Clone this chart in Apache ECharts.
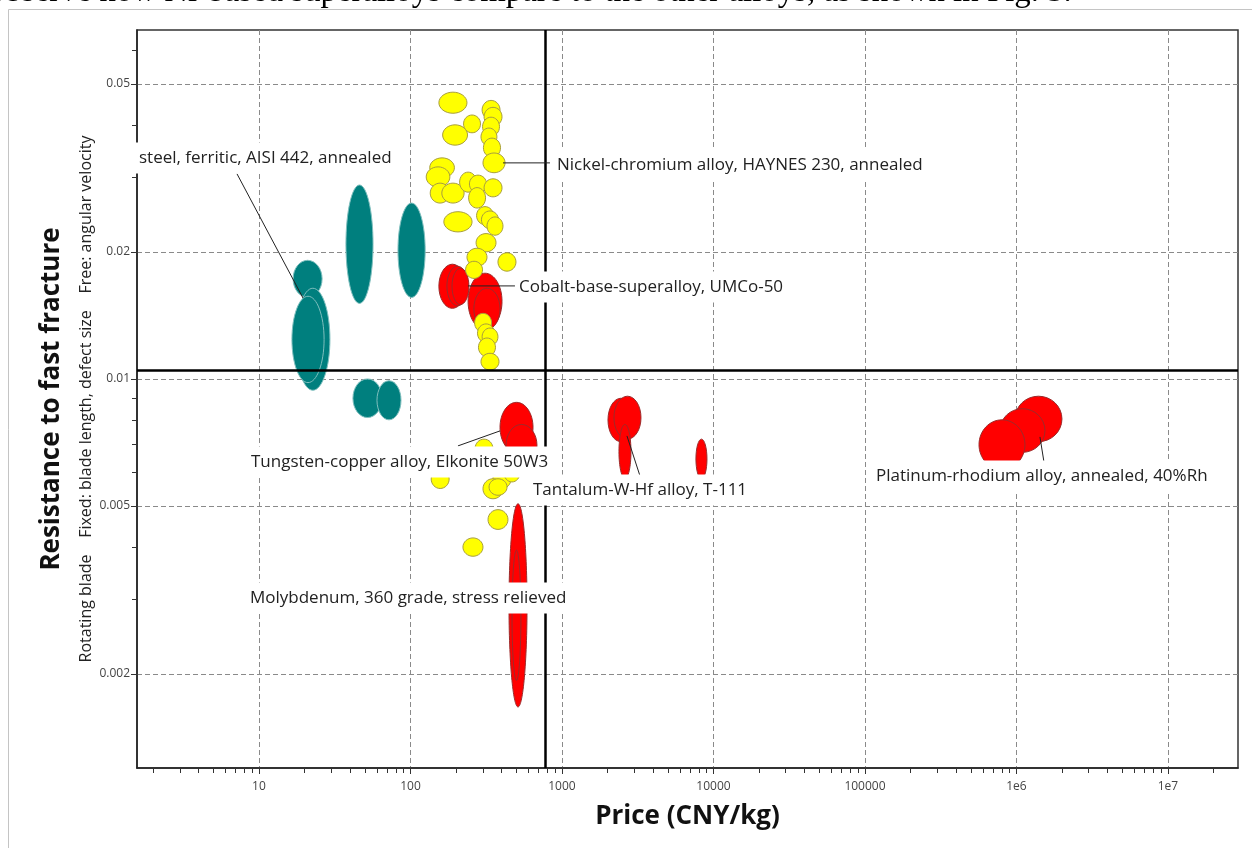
<!DOCTYPE html>
<html>
<head>
<meta charset="utf-8">
<script src="https://cdn.jsdelivr.net/npm/echarts@6/dist/echarts.min.js"></script>
<style>
  html, body { margin: 0; padding: 0; background: #fff; }
  #chart { width: 1252px; height: 848px; }
</style>
</head>
<body>
<div id="chart"></div>
<script>
// ---- Axes (price in CNY/kg, resistance to fast fracture) ----
const priceTicks = [10, 100, 1000, 10000, 100000, 1e6, 1e7];
const priceTickLabels = ['10', '100', '1000', '10000', '100000', '1e6', '1e7'];
const resTicks = [0.002, 0.005, 0.01, 0.02, 0.05];
const resTickLabels = ['0.002', '0.005', '0.01', '0.02', '0.05'];
const priceRange = [1.566, 2.9e7];
const resRange = [0.001197, 0.0671];

// Selection limits drawn as solid black lines
const priceLimit = 773;
const resistanceLimit = 0.0105;

// ---- Material property ranges: [price low, price high, resistance low, resistance high] ----
const steelRanges = [
  [16.8, 26.1, 0.0156, 0.0191],
  [17.5, 29.4, 0.0094, 0.0164],
  [16.5, 26.9, 0.0098, 0.0157],
  [37.5, 56.6, 0.0151, 0.0288],
  [82.7, 125, 0.0156, 0.0261],
  [41.7, 64.9, 0.0081, 0.0100],
  [60.1, 86.6, 0.0080, 0.0099]
];

const otherAlloyRanges = [
  [154, 232, 0.0147, 0.0187],
  [174, 240, 0.0149, 0.0185],
  [188, 243, 0.0150, 0.0183],
  [240, 402, 0.0131, 0.0178],
  [262, 390, 0.0131, 0.0164],
  [390, 644, 0.0067, 0.0088],
  [427, 684, 0.0062, 0.0078],
  [2012, 2987, 0.0071, 0.0090],
  [2204, 3323, 0.0072, 0.0091],
  [2378, 2854, 0.0058, 0.0078],
  [7660, 9060, 0.0058, 0.0072],
  [978000, 1997000, 0.0071, 0.0091],
  [778000, 1542000, 0.0067, 0.0085],
  [566000, 1138000, 0.0061, 0.0080],
  [447, 588, 0.00167, 0.00506],
  [468, 536, 0.00193, 0.00393]
];

const nickelRanges = [
  [154, 236, 0.0426, 0.0478],
  [297, 390, 0.0412, 0.0457],
  [306, 402, 0.0397, 0.0440],
  [224, 290, 0.0383, 0.0422],
  [163, 238, 0.0358, 0.0400],
  [299, 387, 0.0376, 0.0417],
  [292, 372, 0.0357, 0.0393],
  [303, 393, 0.0335, 0.0372],
  [301, 421, 0.0308, 0.0343],
  [134, 195, 0.0300, 0.0334],
  [127, 182, 0.0285, 0.0318],
  [135, 182, 0.0261, 0.0291],
  [161, 226, 0.0261, 0.0291],
  [211, 273, 0.0277, 0.0309],
  [245, 318, 0.0276, 0.0304],
  [242, 313, 0.0254, 0.0284],
  [306, 402, 0.0270, 0.0298],
  [166, 255, 0.0223, 0.0249],
  [273, 353, 0.0232, 0.0256],
  [294, 381, 0.0227, 0.0250],
  [320, 408, 0.0219, 0.0242],
  [271, 367, 0.0200, 0.0221],
  [236, 320, 0.0185, 0.0204],
  [231, 299, 0.0173, 0.0190],
  [378, 497, 0.0180, 0.0199],
  [265, 343, 0.0129, 0.0143],
  [277, 359, 0.0122, 0.0135],
  [297, 378, 0.0120, 0.0132],
  [281, 364, 0.0113, 0.0125],
  [292, 384, 0.0105, 0.0115],
  [267, 350, 0.0065, 0.0072],
  [137, 180, 0.0055, 0.0061],
  [350, 461, 0.0055, 0.0061],
  [414, 528, 0.0057, 0.0063],
  [301, 408, 0.0052, 0.0058],
  [330, 434, 0.0053, 0.0058],
  [325, 440, 0.0044, 0.0049],
  [222, 301, 0.0038, 0.0042]
];

// ---- Annotations: text, anchor (left of text), leader line [p1, r1, p2, r2] ----
const labelTexts = [
  'steel, ferritic, AISI 442, annealed',
  'Nickel-chromium alloy, HAYNES 230, annealed',
  'Cobalt-base-superalloy, UMCo-50',
  'Tungsten-copper alloy, Elkonite 50W3',
  'Tantalum-W-Hf alloy, T-111',
  'Molybdenum, 360 grade, stress relieved',
  'Platinum-rhodium alloy, annealed, 40%Rh'
];
const labelPrice = [1.614, 926.8, 520.1, 8.853, 643.7, 8.72, 118200];
const labelRes = [0.03339, 0.03214, 0.01652, 0.006357, 0.005457, 0.003028, 0.005891];
const leaderLines = [
  [7.158, 0.03061, 19.52, 0.01555],
  [408, 0.0325, 833, 0.0325],
  [239.6, 0.01661, 489.6, 0.01661],
  [205.8, 0.006939, 389.8, 0.00753],
  [2685, 0.007327, 3273, 0.005891],
  null,
  [1429000, 0.007287, 1519000, 0.006357]
];

const axisTitleX = 'Price (CNY/kg)';
const axisTitleY = 'Resistance to fast fracture';
const axisSubtitleY = 'Rotating blade    Fixed: blade length, defect size    Free: angular velocity';
const headerText = 'observe how Ni-based superalloys compare to the other alloys, as shown in Fig. 5.';

// ---- helpers ----
const lg = Math.log10;
const FONT = '"Open Sans", "Noto Sans", sans-serif';

function minorLogs(lo, hi) {
  const out = [];
  for (let e = Math.floor(lg(lo)); e <= Math.ceil(lg(hi)); e++) {
    for (let m = 1; m <= 9; m++) {
      const v = m * Math.pow(10, e);
      if (v >= lo && v <= hi) out.push(lg(v));
    }
  }
  return out;
}

function tickFormatter(ticks, labels) {
  return function (v) {
    for (let i = 0; i < ticks.length; i++) {
      if (Math.abs(lg(ticks[i]) - v) < 1e-6) return labels[i];
    }
    return '';
  };
}

function toLogRows(rows) {
  return rows.map(r => [lg(r[0]), lg(r[1]), lg(r[2]), lg(r[3])]);
}

function ellipseRenderer(fill, stroke) {
  return function (params, api) {
    const a = api.coord([api.value(0), api.value(2)]);
    const b = api.coord([api.value(1), api.value(3)]);
    return {
      type: 'ellipse',
      shape: {
        cx: (a[0] + b[0]) / 2, cy: (a[1] + b[1]) / 2,
        rx: Math.abs(b[0] - a[0]) / 2, ry: Math.abs(b[1] - a[1]) / 2
      },
      style: { fill: fill, stroke: stroke, lineWidth: 1 }
    };
  };
}

const LABEL_PAD = [7, 4];
function annotationRenderer(params, api) {
  const i = params.dataIndex;
  const p = api.coord([api.value(0), api.value(1)]);
  const children = [];
  const ld = leaderLines[i];
  if (ld) {
    const s = api.coord([lg(ld[0]), lg(ld[1])]);
    const e = api.coord([lg(ld[2]), lg(ld[3])]);
    children.push({
      type: 'line',
      shape: { x1: s[0], y1: s[1], x2: e[0], y2: e[1] },
      style: { stroke: '#222', lineWidth: 1 }
    });
  }
  children.push({
    type: 'text',
    x: p[0] - LABEL_PAD[1], y: p[1],
    style: {
      text: labelTexts[i], fill: '#222',
      font: '17px ' + FONT,
      align: 'left', verticalAlign: 'middle',
      backgroundColor: '#fff', padding: LABEL_PAD
    }
  });
  return { type: 'group', children: children };
}

// Header line of body text, sized to run across the page width
function headerGraphic() {
  const family = '"Liberation Serif", serif';
  const ctx = document.createElement('canvas').getContext('2d');
  ctx.font = '100px ' + family;
  const x0 = -11, x1 = 1072;
  const size = 100 * (x1 - x0) / ctx.measureText(headerText).width;
  return {
    type: 'text', x: x0, y: 9,
    style: { text: headerText, font: size.toFixed(2) + 'px ' + family, fill: '#000', align: 'left', verticalAlign: 'bottom' }
  };
}

const axisTextStyle = { fontFamily: FONT, fontSize: 12, color: '#444' };

const chart = echarts.init(document.getElementById('chart'), null, { renderer: 'canvas' });
chart.setOption({
  animation: false,
  backgroundColor: '#fff',
  graphic: [
    { type: 'rect', shape: { x: 8.5, y: 9.5, width: 1400, height: 1000 }, style: { fill: 'none', stroke: '#c4c4c4', lineWidth: 1 }, z: -10 },
    headerGraphic()
  ],
  grid: {
    left: 137, right: 14, top: 30, bottom: 80,
    show: true, borderColor: '#333', borderWidth: 1.5, backgroundColor: '#fff'
  },
  xAxis: [
    {
      type: 'value', min: lg(priceRange[0]), max: lg(priceRange[1]), position: 'bottom',
      name: axisTitleX, nameLocation: 'middle', nameGap: 36,
      nameTextStyle: { fontFamily: FONT, fontSize: 26, fontWeight: 'bold', color: '#111' },
      axisLine: { show: true, onZero: false, lineStyle: { color: '#222', width: 1.5 } },
      axisTick: { show: true, length: 6, customValues: priceTicks.map(lg), lineStyle: { color: '#333' } },
      axisLabel: { show: true, margin: 13, customValues: priceTicks.map(lg), formatter: tickFormatter(priceTicks, priceTickLabels), ...axisTextStyle },
      splitLine: { show: true, lineStyle: { color: '#8a8a8a', width: 1, type: [5, 3] } }
    },
    {
      type: 'value', min: lg(priceRange[0]), max: lg(priceRange[1]), position: 'bottom', offset: 0,
      axisLine: { show: false, onZero: false },
      axisTick: { show: true, length: 5, customValues: minorLogs(priceRange[0], priceRange[1]), lineStyle: { color: '#333' } },
      axisLabel: { show: false },
      splitLine: { show: false }
    }
  ],
  yAxis: [
    {
      type: 'value', min: lg(resRange[0]), max: lg(resRange[1]), position: 'left',
      name: axisTitleY, nameLocation: 'middle', nameGap: 72,
      nameTextStyle: { fontFamily: FONT, fontSize: 26, fontWeight: 'bold', color: '#111' },
      axisLine: { show: true, onZero: false, lineStyle: { color: '#222', width: 1.5 } },
      axisTick: { show: true, length: 6, customValues: resTicks.map(lg), lineStyle: { color: '#333' } },
      axisLabel: { show: true, margin: 7, customValues: resTicks.map(lg), formatter: tickFormatter(resTicks, resTickLabels), ...axisTextStyle },
      splitLine: { show: true, lineStyle: { color: '#8a8a8a', width: 1, type: [5, 3] } }
    },
    {
      type: 'value', min: lg(resRange[0]), max: lg(resRange[1]), position: 'left', offset: 0,
      name: axisSubtitleY, nameLocation: 'middle', nameGap: 43,
      nameTextStyle: { fontFamily: FONT, fontSize: 16, color: '#222' },
      axisLine: { show: false, onZero: false },
      axisTick: { show: true, length: 5, customValues: minorLogs(resRange[0], resRange[1]), lineStyle: { color: '#333' } },
      axisLabel: { show: false },
      splitLine: { show: false }
    }
  ],
  series: [
    {
      type: 'custom', name: 'Steels', z: 2,
      renderItem: ellipseRenderer('#007f7e', '#7fbfbe'),
      encode: { x: [0, 1], y: [2, 3] },
      data: toLogRows(steelRanges)
    },
    {
      type: 'custom', name: 'Co, W, Ta, Mo, Pt alloys', z: 2,
      renderItem: ellipseRenderer('#ff0000', '#9c2b2b'),
      encode: { x: [0, 1], y: [2, 3] },
      data: toLogRows(otherAlloyRanges)
    },
    {
      type: 'custom', name: 'Nickel alloys', z: 2,
      renderItem: ellipseRenderer('#ffff00', '#a89e3c'),
      encode: { x: [0, 1], y: [2, 3] },
      data: toLogRows(nickelRanges)
    },
    {
      type: 'line', name: 'Limits', z: 3, data: [],
      markLine: {
        silent: true, symbol: 'none', label: { show: false },
        lineStyle: { color: '#000', width: 2.5, type: 'solid' },
        data: [{ xAxis: lg(priceLimit) }, { yAxis: lg(resistanceLimit) }]
      }
    },
    {
      type: 'custom', name: 'Labels', z: 5,
      renderItem: annotationRenderer,
      encode: { x: 0, y: 1 },
      data: labelPrice.map((p, i) => [lg(p), lg(labelRes[i])])
    }
  ]
});
</script>
</body>
</html>
